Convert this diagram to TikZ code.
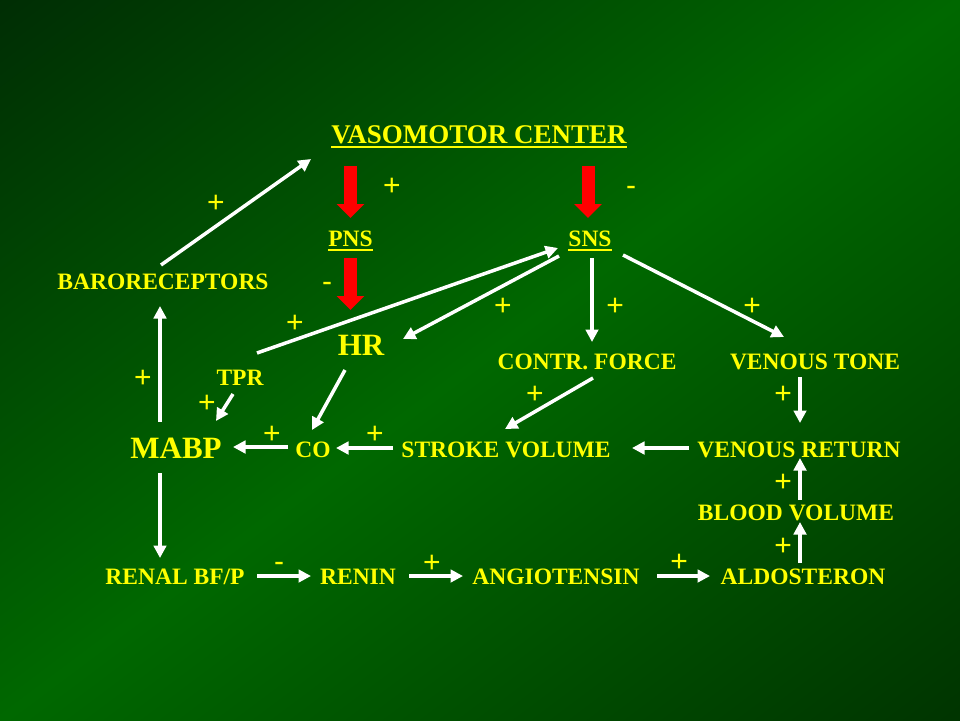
\documentclass[tikz,border=0pt]{standalone}
\usepackage{fontspec}
\setmainfont{Liberation Serif}
\newfontfamily\signfont{Liberation Sans}
\usetikzlibrary{arrows.meta}
\definecolor{txtyellow}{RGB}{255,255,0}
\definecolor{bgdark}{RGB}{0,45,4}
\definecolor{bgdarkb}{RGB}{0,52,0}
\definecolor{bgmid}{RGB}{0,104,0}
\definecolor{redfill}{RGB}{255,0,0}
\begin{document}
\begin{tikzpicture}[x=1pt,y=-1pt,
  lbl/.style={anchor=base, inner sep=0pt, text=txtyellow, font=\bfseries\fontsize{23.5}{28}\selectfont},
  biglbl/.style={lbl, font=\bfseries\fontsize{31}{36}\selectfont},
  titlelbl/.style={lbl, font=\bfseries\fontsize{27}{32}\selectfont},
  sgnbase/.style={anchor=base, inner sep=0pt, text=txtyellow, font=\signfont\fontsize{30}{36}\selectfont},
  plus/.style={sgnbase, yshift=-10.5pt},
  minus/.style={sgnbase, yshift=-8.3pt},
  arr/.style={draw=white, line width=3.5pt, -{Triangle[length=12.5pt,width=12.5pt]}},
  redarr/.style={draw=redfill, line width=13pt, -{Triangle[length=14pt,width=27pt]}},
  uline/.style={draw=txtyellow, line width=2pt}
]
\useasboundingbox (0,0) rectangle (960,720);
\begin{scope}
  \clip (0,0) rectangle (960,720);
  \begin{scope}[transform canvas={rotate around={36.87:(480,360)}}]
    \shade[top color=bgdark, bottom color=bgdarkb, middle color=bgmid]
      (-130,-220) rectangle (1090,940);
  \end{scope}
\end{scope}

% nodes
\node[titlelbl] (vmc) at (479,143) {VASOMOTOR CENTER};
\node[lbl] (pns) at (350.5,246) {PNS};
\node[lbl] (sns) at (590,246) {SNS};
\node[lbl] (baro) at (163,289) {BARORECEPTORS};
\node[biglbl] (hr) at (361,355) {HR};
\node[lbl] (tpr) at (240,385) {TPR};
\node[lbl] (cf) at (587,369) {CONTR. FORCE};
\node[lbl] (vt) at (815,369) {VENOUS TONE};
\node[biglbl] (mabp) at (176,458) {MABP};
\node[lbl] (co) at (313,457) {CO};
\node[lbl] (sv) at (506,457) {STROKE VOLUME};
\node[lbl] (vr) at (799,457) {VENOUS RETURN};
\node[lbl] (bv) at (796,520) {BLOOD VOLUME};
\node[lbl] (ald) at (803,584) {ALDOSTERON};
\node[lbl] (renal) at (175,584) {RENAL BF/P};
\node[lbl] (renin) at (358,584) {RENIN};
\node[lbl] (ang) at (556,584) {ANGIOTENSIN};

% underlines
\draw[uline] ([yshift=-4pt]vmc.base west) -- ([yshift=-4pt]vmc.base east);
\draw[uline] ([yshift=-4pt]pns.base west) -- ([yshift=-4pt]pns.base east);
\draw[uline] ([yshift=-4pt]sns.base west) -- ([yshift=-4pt]sns.base east);

% red arrows
\draw[redarr] ([shift={(-128.5,23)}]vmc.base) -- ([shift={(0,-28)}]pns.base);
\draw[redarr] ([shift={(0,12)}]pns.base) -- ([shift={(-10.5,-45)}]hr.base);
\draw[redarr] ([shift={(109,23)}]vmc.base) -- ([shift={(-2,-28)}]sns.base);

% white arrows
\draw[arr] ([shift={(-2,-24)}]baro.base) -- ([shift={(-168,16)}]vmc.base);
\draw[arr] ([shift={(-16,-36)}]mabp.base) -- ([shift={(-3,17)}]baro.base);
\draw[arr] ([shift={(17,-32)}]tpr.base) -- ([shift={(-32,2)}]sns.base);
\draw[arr] ([shift={(-31,10)}]sns.base) -- ([shift={(42,-16)}]hr.base);
\draw[arr] ([shift={(2,12)}]sns.base) -- ([shift={(5,-27)}]cf.base);
\draw[arr] ([shift={(33,9)}]sns.base) -- ([shift={(-31,-32)}]vt.base);
\draw[arr] ([shift={(-7,9)}]tpr.base) -- ([shift={(40,-37)}]mabp.base);
\draw[arr] ([shift={(-16,15)}]hr.base) -- ([shift={(-1,-27)}]co.base);
\draw[arr] ([shift={(-25,-10)}]co.base) -- ([shift={(57,-11)}]mabp.base);
\draw[arr] ([shift={(-113,-9)}]sv.base) -- ([shift={(23,-9)}]co.base);
\draw[arr] ([shift={(6,9)}]cf.base) -- ([shift={(-1,-28)}]sv.base);
\draw[arr] ([shift={(-110,-9)}]vr.base) -- ([shift={(126,-9)}]sv.base);
\draw[arr] ([shift={(-15,8)}]vt.base) -- ([shift={(1,-34)}]vr.base);
\draw[arr] ([shift={(4,-20)}]bv.base) -- ([shift={(1,1)}]vr.base);
\draw[arr] ([shift={(-3,-21)}]ald.base) -- ([shift={(4,2)}]bv.base);
\draw[arr] ([shift={(-16,15)}]mabp.base) -- ([shift={(-15,-26)}]renal.base);
\draw[arr] ([shift={(82,-8)}]renal.base) -- ([shift={(-47,-8)}]renin.base);
\draw[arr] ([shift={(51,-8)}]renin.base) -- ([shift={(-93,-8)}]ang.base);
\draw[arr] ([shift={(101,-8)}]ang.base) -- ([shift={(-93,-8)}]ald.base);

% signs
\node[plus] (s1) at (392,185) {+};
\node[minus] (s2) at (631,187) {-};
\node[plus] (s3) at (216,202) {+};
\node[minus] (s4) at (327,283) {-};
\node[plus] (s5) at (295,322) {+};
\node[plus] (s6) at (503,305) {+};
\node[plus] (s7) at (615,305) {+};
\node[plus] (s8) at (752,305) {+};
\node[plus] (s9) at (143,377) {+};
\node[plus] (s10) at (207,402) {+};
\node[plus] (s11) at (535,393) {+};
\node[plus] (s12) at (783,393) {+};
\node[plus] (s13) at (272,433) {+};
\node[plus] (s14) at (375,433) {+};
\node[plus] (s15) at (783,481) {+};
\node[plus] (s16) at (783,545) {+};
\node[minus] (s17) at (279,563) {-};
\node[plus] (s18) at (432,562) {+};
\node[plus] (s19) at (679,561) {+};
\end{tikzpicture}
\end{document}
